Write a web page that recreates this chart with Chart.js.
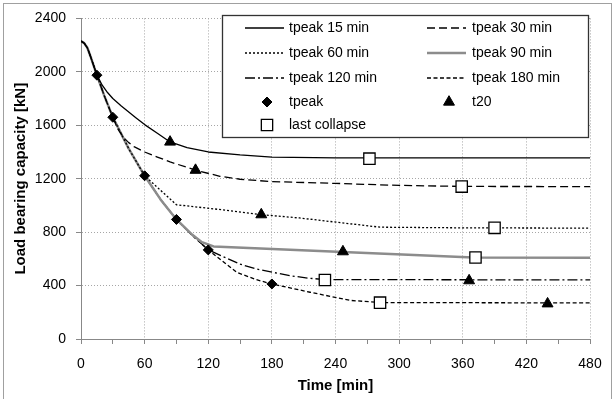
<!DOCTYPE html>
<html>
<head>
<meta charset="utf-8">
<script src="https://cdn.jsdelivr.net/npm/chart.js@4.4.1/dist/chart.umd.min.js"></script>
<style>
  body { margin: 0; background: #fff; }
  #boite { position: relative; width: 615px; height: 399px; overflow: hidden; background: #fff; }
  #graph01 { position: absolute; left: 0; top: 0; }
  #cadre { position: absolute; left: 3px; top: 3px; width: 607px; height: 420px; border: 1px solid #a0a0a0; pointer-events: none; }
</style>
</head>
<body>
<div id="boite">
  <canvas id="graph01" width="615" height="399"></canvas>
  <div id="cadre"></div>
</div>
<script>
// axes
const xTicks = [0, 60, 120, 180, 240, 300, 360, 420, 480];
const yTicks = [0, 400, 800, 1200, 1600, 2000, 2400];

// courbes (temps en min, charge en kN)
const nomsCourbes = ['tpeak 15 min', 'tpeak 30 min', 'tpeak 60 min', 'tpeak 90 min', 'tpeak 120 min', 'tpeak 180 min'];

const temps15 = [0, 3, 6, 9, 12, 15, 20, 25, 30, 38, 45, 52, 60, 72, 84, 100, 120, 150, 180, 240, 480];
const charge15 = [2230, 2215, 2180, 2115, 2045, 1975, 1900, 1845, 1800, 1745, 1700, 1655, 1605, 1540, 1475, 1432, 1400, 1378, 1362, 1356, 1356];

const temps30 = [0, 3, 6, 9, 12, 15, 22, 30, 35, 40, 45, 50, 60, 72, 84, 108, 131, 150, 180, 240, 300, 360, 480];
const charge30 = [2230, 2215, 2180, 2115, 2045, 1975, 1820, 1660, 1570, 1510, 1470, 1440, 1400, 1362, 1326, 1264, 1218, 1196, 1178, 1165, 1150, 1142, 1141];

const temps60 = [0, 3, 6, 9, 12, 15, 22, 30, 45, 60, 90, 130, 170, 206, 282, 360, 480];
const charge60 = [2230, 2215, 2180, 2115, 2045, 1975, 1820, 1660, 1425, 1222, 1005, 970, 931, 906, 837, 832, 830];

const temps90 = [0, 3, 6, 9, 12, 15, 22, 30, 45, 60, 75, 90, 105, 114, 125, 247, 370, 480];
const charge90 = [2230, 2215, 2180, 2115, 2045, 1975, 1820, 1660, 1425, 1222, 1045, 895, 780, 725, 693, 652, 610, 608];

const temps120 = [0, 3, 6, 9, 12, 15, 22, 30, 45, 60, 75, 90, 105, 120, 150, 165, 181, 197, 215, 230, 480];
const charge120 = [2230, 2215, 2180, 2115, 2045, 1975, 1820, 1660, 1425, 1222, 1045, 895, 775, 667, 560, 525, 499, 474, 455, 445, 442];

const temps180 = [0, 3, 6, 9, 12, 15, 22, 30, 45, 60, 75, 90, 105, 120, 147, 165, 180, 216, 254, 282, 480];
const charge180 = [2230, 2215, 2180, 2115, 2045, 1975, 1820, 1660, 1425, 1222, 1045, 895, 775, 667, 499, 445, 412, 350, 289, 273, 270];

// marqueurs
const tpeakTemps = [15, 30, 60, 90, 120, 180];
const tpeakCharge = [1975, 1660, 1222, 895, 667, 412];
const t20Temps = [84, 108, 170, 247, 366, 440];
const t20Charge = [1475, 1264, 931, 654, 437, 264];
const effondrementTemps = [272, 359, 390, 372, 230, 282];
const effondrementCharge = [1350, 1141, 832, 610, 442, 272];

Chart.defaults.font.family = '"Liberation Sans", Arial, sans-serif';
Chart.defaults.font.size = 14;
Chart.defaults.color = '#000';

/**
 * assemble les points {x, y}
 */
function points(temps, charge) {
  return temps.map((t, i) => ({ x: t, y: charge[i] }));
}

function courbe(label, temps, charge, style) {
  return Object.assign({
    label: label,
    data: points(temps, charge),
    showLine: true,
    fill: false,
    pointRadius: 0,
    pointHoverRadius: 0,
    borderColor: '#000',
    borderWidth: 1.3,
    borderDash: [],
    tension: 0,
    borderJoinStyle: 'round',
    order: 2,
  }, style);
}

function marqueur(label, temps, charge, style) {
  return Object.assign({
    label: label,
    data: points(temps, charge),
    showLine: false,
    borderColor: '#000',
    backgroundColor: '#000',
    borderWidth: 1,
    order: 0,
  }, style);
}

/**
 * dessine un symbole de la legende
 */
function symbole(ctx, style, r, x, y, fond) {
  ctx.beginPath();
  if (style === 'rectRot') {
    ctx.moveTo(x - r, y); ctx.lineTo(x, y - r); ctx.lineTo(x + r, y); ctx.lineTo(x, y + r);
  } else if (style === 'triangle') {
    ctx.moveTo(x, y - r); ctx.lineTo(x + r * 0.866, y + r / 2); ctx.lineTo(x - r * 0.866, y + r / 2);
  } else {
    const s = r * Math.SQRT1_2;
    ctx.rect(x - s, y - s, 2 * s, 2 * s);
  }
  ctx.closePath();
  ctx.fillStyle = fond;
  ctx.fill();
  ctx.stroke();
}

const legendeCadre = {
  id: 'legendeCadre',
  afterDatasetsDraw(chart) {
    const ctx = chart.ctx;
    ctx.save();
    ctx.fillStyle = '#fff';
    ctx.fillRect(222, 15, 366, 122);
    ctx.strokeStyle = '#333';
    ctx.lineWidth = 1.3;
    ctx.strokeRect(222.5, 15.5, 366, 122);
    const colX = [245, 427];
    const txtX = [289, 472];
    const ligneY = [28, 53, 78, 102, 125];
    chart.data.datasets.forEach((ds, i) => {
      const c = i % 2, l = Math.floor(i / 2);
      const y = ligneY[l];
      ctx.strokeStyle = ds.borderColor;
      if (ds.showLine) {
        ctx.lineWidth = ds.borderWidth;
        ctx.setLineDash(ds.borderDash || []);
        ctx.beginPath();
        ctx.moveTo(colX[c], y);
        ctx.lineTo(colX[c] + 39, y);
        ctx.stroke();
        ctx.setLineDash([]);
      } else {
        ctx.lineWidth = ds.borderWidth;
        symbole(ctx, ds.pointStyle, ds.pointRadius, colX[c] + 22, y, ds.backgroundColor);
      }
      ctx.fillStyle = '#000';
      ctx.font = '14px "Liberation Sans", Arial, sans-serif';
      ctx.textBaseline = 'middle';
      ctx.fillText(ds.label, txtX[c], y);
    });
    ctx.restore();
  }
};

const data = {
  datasets: [
    courbe(nomsCourbes[0], temps15, charge15, {}),
    courbe(nomsCourbes[1], temps30, charge30, { borderDash: [8, 4] }),
    courbe(nomsCourbes[2], temps60, charge60, { borderDash: [2, 2] }),
    courbe(nomsCourbes[3], temps90, charge90, { borderColor: '#8c8c8c', borderWidth: 2.5 }),
    courbe(nomsCourbes[4], temps120, charge120, { borderDash: [10, 3, 2, 3] }),
    courbe(nomsCourbes[5], temps180, charge180, { borderDash: [4, 2.5] }),
    marqueur('tpeak', tpeakTemps, tpeakCharge, { pointStyle: 'rectRot', pointRadius: 5 }),
    marqueur('t20', t20Temps, t20Charge, { pointStyle: 'triangle', pointRadius: 6.3 }),
    marqueur('last collapse', effondrementTemps, effondrementCharge, { pointStyle: 'rect', pointRadius: 8, backgroundColor: '#fff', borderWidth: 1.3 }),
  ]
};

const options = {
  responsive: false,
  animation: false,
  layout: { padding: { left: 0, right: 25, top: 15, bottom: 0 } },
  scales: {
    x: {
      type: 'linear',
      min: xTicks[0],
      max: xTicks[xTicks.length - 1],
      afterFit: (s) => { s.height = 60; },
      ticks: {
        stepSize: 30, autoSkip: false, maxRotation: 0, padding: 12,
        callback: (v) => xTicks.includes(v) ? String(v) : ''
      },
      grid: {
        color: (c) => (c.tick && xTicks.includes(c.tick.value)) ? '#a6a6a6' : 'rgba(0,0,0,0)',
        tickColor: '#888', tickLength: 5
      },
      border: { color: '#888', width: 1, dash: [1, 2] },
      title: { display: true, text: 'Time [min]', font: { size: 15, weight: 'bold' }, padding: { top: 0, bottom: 4 } }
    },
    y: {
      type: 'linear',
      min: yTicks[0],
      max: yTicks[yTicks.length - 1],
      afterFit: (s) => { s.width = 81; },
      afterBuildTicks: (s) => { s.ticks = yTicks.map(v => ({ value: v })); },
      ticks: { padding: 10, callback: (v) => String(v) },
      grid: { color: '#a6a6a6', tickColor: '#888', tickLength: 5 },
      border: { color: '#888', width: 1, dash: [1, 2] },
      title: { display: true, text: 'Load bearing capacity [kN]', font: { size: 15, weight: 'bold' }, padding: { top: 12, bottom: 0 } }
    }
  },
  plugins: {
    legend: { display: false },
    tooltip: { enabled: false }
  }
};

new Chart(document.getElementById('graph01').getContext('2d'), { type: 'scatter', data: data, options: options, plugins: [legendeCadre] });
</script>
</body>
</html>
